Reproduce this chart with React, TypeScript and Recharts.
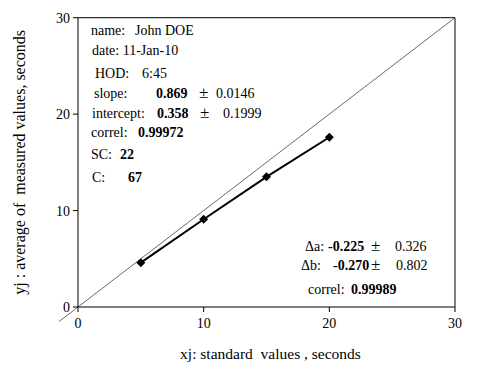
import { ComposedChart, Line, XAxis, YAxis, ReferenceLine, Label } from 'recharts';

// standard values (x) and averaged measured values (y)
const standardValues = [5, 10, 15, 20];
const measuredValues = [4.6, 9.1, 13.5, 17.6];
const axisTicks = [0, 10, 20, 30];
const identityEnds = [-1.5, 30]; // y = x reference, pokes out below the origin

const data = standardValues.map((x, i) => ({ x, y: measuredValues[i] }));

const FONT = '"Liberation Serif", "Times New Roman", serif';
const nb = (s: string) => s.replace(/ /g, '\u00a0');

const Diamond = (props: any) => {
  const { cx, cy } = props;
  if (cx == null || cy == null) return null;
  const r = 4.5;
  return (
    <polygon
      points={`${cx},${cy - r} ${cx + r},${cy} ${cx},${cy + r} ${cx - r},${cy}`}
      fill="#000"
    />
  );
};

const T = ({ x, y, children, bold, size }: any) => (
  <text
    x={x}
    y={y}
    style={{ fontFamily: FONT, fontSize: size || 14, fontWeight: bold ? 'bold' : 'normal' }}
    fill="#000"
  >
    {nb(children)}
  </text>
);

const App = () => {
  return (
    <div style={{ position: 'relative', width: 492, height: 367, fontFamily: FONT }}>
      <ComposedChart
        width={492}
        height={367}
        data={data}
        margin={{ top: 9.7, right: 45, bottom: 38, left: 0 }}
      >
        <XAxis
          type="number"
          dataKey="x"
          domain={[0, 30]}
          ticks={axisTicks}
          height={30}
          stroke="#000"
          tickSize={5}
          tick={{ fill: '#000', fontSize: 14, fontFamily: FONT }}
          tickMargin={6}
        >
          <Label
            value={nb('xj: standard  values , seconds')}
            position="bottom"
            offset={11}
            dx={4}
            style={{ fill: '#000', fontSize: 15.5, fontFamily: FONT }}
          />
        </XAxis>
        <YAxis
          type="number"
          domain={[0, 30]}
          ticks={axisTicks}
          width={70}
          stroke="#000"
          tickSize={5}
          tick={{ fill: '#000', fontSize: 14, fontFamily: FONT }}
          tickMargin={3}
        >
          <Label
            value={nb('yj : average of  measured values, seconds')}
            angle={-90}
            position="insideLeft"
            offset={11}
            style={{ fill: '#000', fontSize: 16, fontFamily: FONT, textAnchor: 'middle' }}
          />
        </YAxis>
        <ReferenceLine y={30} stroke="#000" ifOverflow="visible" />
        <ReferenceLine x={30} stroke="#000" ifOverflow="visible" />
        <ReferenceLine
          segment={[
            { x: identityEnds[0], y: identityEnds[0] },
            { x: identityEnds[1], y: identityEnds[1] },
          ]}
          stroke="#444"
          strokeWidth={0.8}
          ifOverflow="visible"
        />
        <Line
          type="linear"
          dataKey="y"
          stroke="#000"
          strokeWidth={2}
          dot={<Diamond />}
          activeDot={false}
          isAnimationActive={false}
        />
      </ComposedChart>
      <svg
        width={492}
        height={367}
        style={{ position: 'absolute', left: 0, top: 0, pointerEvents: 'none' }}
      >
        <T x={83} y={27}>name:</T>
        <T x={127} y={27}>John DOE</T>
        <T x={84} y={47}>date: 11-Jan-10</T>
        <T x={87} y={70}>HOD:</T>
        <T x={134} y={70}>6:45</T>
        <T x={86} y={90}>slope:</T>
        <T x={148} y={90} bold>0.869</T>
        <T x={191} y={90} size={17}>±</T>
        <T x={208} y={90}>0.0146</T>
        <T x={84} y={109.5}>intercept:</T>
        <T x={149} y={109.5} bold>0.358</T>
        <T x={192} y={109.5} size={17}>±</T>
        <T x={215} y={109.5}>0.1999</T>
        <T x={83} y={129}>correl:</T>
        <T x={130} y={129} bold>0.99972</T>
        <T x={83} y={151}>SC:</T>
        <T x={112} y={151} bold>22</T>
        <T x={84} y={174}>C:</T>
        <T x={120} y={174} bold>67</T>

        <T x={297} y={243}>Δa:</T>
        <T x={320} y={243} bold>-0.225</T>
        <T x={363} y={243} size={17}>±</T>
        <T x={387} y={243}>0.326</T>
        <T x={293} y={262}>Δb:</T>
        <T x={325} y={262} bold>-0.270</T>
        <T x={363} y={262} size={17}>±</T>
        <T x={388} y={262}>0.802</T>
        <T x={300} y={286}>correl:</T>
        <T x={343} y={286} bold>0.99989</T>
      </svg>
    </div>
  );
};

export default App;
